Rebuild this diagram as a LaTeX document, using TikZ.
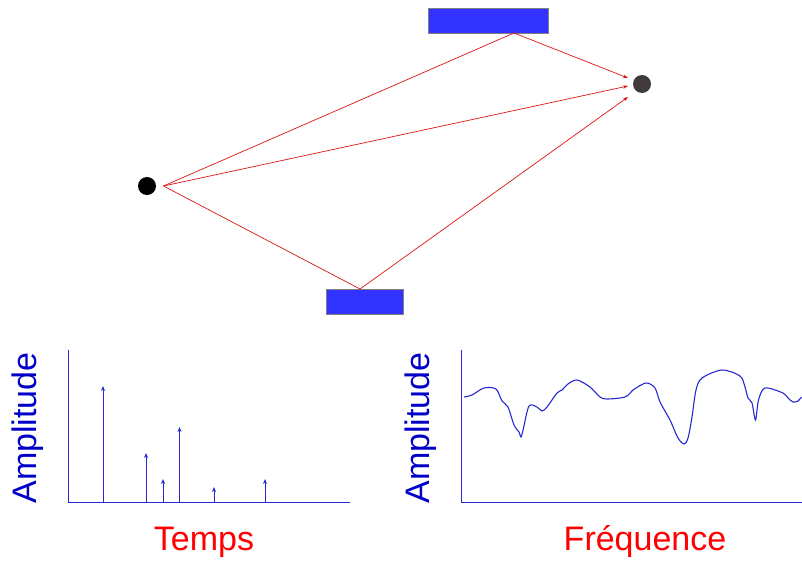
\documentclass[tikz,border=0pt]{standalone}
\usepackage{fontspec}
\newfontfamily\labelfont{Liberation Sans}
\usetikzlibrary{arrows.meta}
\definecolor{wallblue}{RGB}{51,51,255}
\definecolor{axisblue}{RGB}{40,40,210}
\definecolor{textblue}{RGB}{0,0,200}
\definecolor{raired}{RGB}{220,20,20}
\definecolor{rxgray}{RGB}{64,58,58}

\begin{document}
\begin{tikzpicture}[x=1pt, y=-1pt,
    wall/.style={draw=gray, fill=wallblue, inner sep=0pt, minimum height=25pt},
    dot/.style={circle, inner sep=0pt, minimum size=18pt},
    ray/.style={raired, line width=0.7pt},
    rayarrow/.style={ray, -{Stealth[length=5pt, width=3.5pt]}},
    axis/.style={axisblue, line width=1.3pt},
    stem/.style={axisblue, line width=1pt, -{Stealth[length=5pt, width=4pt]}},
    axislabel/.style={font=\labelfont\fontsize{34}{40}\selectfont, text=textblue, rotate=90},
    unitlabel/.style={font=\labelfont\fontsize{34}{40}\selectfont, text=red}]
  \useasboundingbox (0,0) rectangle (802,562);

  % source, receiver and the two reflecting walls
  \node[wall, minimum width=120pt] (topwall) at (488,20.5) {};
  \node[wall, minimum width=77pt] (botwall) at (364.5,301.5) {};
  \node[dot, fill=black] (source) at (147,186) {};
  \node[dot, fill=rxgray] (receiver) at (642,84) {};
  \coordinate (emit) at (163.5,186);
  \coordinate (hitA) at (514,33);
  \coordinate (hitB) at (360,289);
  \coordinate (inA) at (628,78);
  \coordinate (inD) at (628,86);
  \coordinate (inB) at (628,97);

  % rays
  \draw[ray] (emit) -- (hitA);
  \draw[rayarrow] (hitA) -- (inA);
  \draw[rayarrow] (emit) -- (inD);
  \draw[ray] (emit) -- (hitB);
  \draw[rayarrow] (hitB) -- (inB);

  % impulse response
  \coordinate (torigin) at (68.5,502.5);
  \draw[axis] (68.5,350) -- (torigin) -- (350,502.5);
  \foreach \t/\a in {103/386, 146/453, 163/479, 179.5/427, 214/487, 265/479}
    \draw[stem] (\t,502.5) -- (\t,\a);
  \node[axislabel] (tamp) at (28,428) {Amplitude};
  \node[unitlabel] (tlabel) at (204,542) {Temps};

  % frequency response
  \coordinate (forigin) at (461.5,502.5);
  \draw[axis] (461.5,350) -- (forigin) -- (802,502.5);
  \draw[axisblue, line width=1.1pt] plot[smooth, tension=0.5] coordinates {
    (464,397) (472,395) (484,388) (496,389) (502,401) (508,407) (514,425)
    (519,432) (521,437) (523.5,428) (529,406) (537,407) (542,411) (547,407)
    (557,393) (562,390) (568,384) (577,380) (590,387) (600,397) (607,399)
    (625,397) (633,390) (646,383) (655,388) (660,402) (670,420) (678,438)
    (684,444) (688,438) (692,417) (696,390) (702,378) (722,370) (740,376)
    (745,387) (748,398) (752,403) (755.5,420) (758.5,400) (765,388) (783,393)
    (788,398) (793,402) (798,401) (801.5,397)};
  \node[axislabel] (famp) at (421,428) {Amplitude};
  \node[unitlabel] (flabel) at (645,542) {Fréquence};
\end{tikzpicture}
\end{document}
